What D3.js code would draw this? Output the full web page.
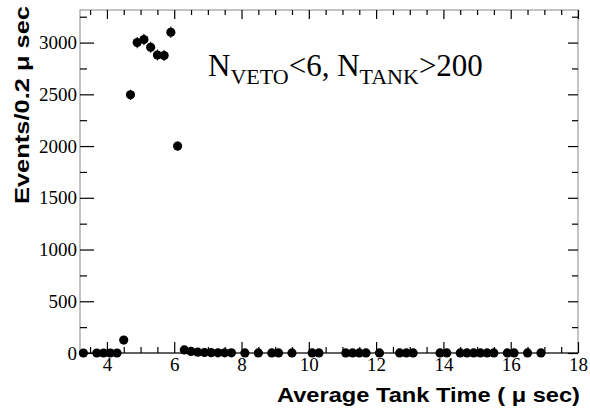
<!DOCTYPE html>
<html>
<head>
<meta charset="utf-8">
<script src="https://cdn.jsdelivr.net/npm/d3@7"></script>
<style>
  body { margin: 0; background: #fff; }
  .tick text { font-family: "Liberation Serif", "Times New Roman", serif; }
  .title { font-family: "Liberation Sans", Arial, sans-serif; font-weight: bold; }
</style>
</head>
<body>
<div id="chart"></div>
<script>
// bin centres (micro sec) and event counts per 0.2 micro sec
var timeBins = [3.3, 3.7, 3.9, 4.1, 4.3, 4.5, 4.7, 4.9, 5.1, 5.3, 5.5, 5.7, 5.9, 6.1,
  6.3, 6.5, 6.7, 6.9, 7.1, 7.3, 7.5, 7.7, 8.1, 8.5, 8.9, 9.1, 9.5, 10.1, 10.3,
  11.1, 11.3, 11.5, 11.7, 12.1, 12.7, 12.9, 13.1, 13.9, 14.1,
  14.5, 14.7, 14.9, 15.1, 15.3, 15.5, 15.9, 16.1, 16.5, 16.9]
var eventCounts = [0, 0, 0, 0, 0, 125, 2495, 3000, 3030, 2955, 2880, 2875, 3100, 2000,
  30, 15, 8, 5, 3, 2, 2, 2, 1, 1, 1, 1, 1, 1, 1,
  1, 1, 1, 1, 1, 1, 1, 1, 1, 1,
  1, 1, 1, 1, 1, 1, 1, 1, 1, 1]

var xMajor = [4, 6, 8, 10, 12, 14, 16, 18]
var yMajor = [0, 500, 1000, 1500, 2000, 2500, 3000]

var svgWidth = 590
var svgHeight = 411
var margin = { top: 10, right: 12, bottom: 58, left: 80 }
var width = svgWidth - margin.left - margin.right
var height = svgHeight - margin.top - margin.bottom

var svg = d3.select("#chart")
  .append("svg")
  .attr("width", svgWidth)
  .attr("height", svgHeight)

var chartGroup = svg.append("g")
  .attr("transform", `translate(${margin.left}, ${margin.top})`)

var x = d3.scaleLinear().domain([3.2, 18]).range([0, width])
var y = d3.scaleLinear().domain([0, 3315]).range([height, 0])

var xMinor = d3.range(3.5, 18.01, 0.5).filter(v => xMajor.indexOf(v) < 0)
var yMinor = d3.range(250, 3315, 500)

// frame
chartGroup.append("rect")
  .attr("width", width)
  .attr("height", height)
  .attr("fill", "none")
  .attr("stroke", "#888")
  .attr("stroke-width", 1)

function styleAxis(g) {
  g.select(".domain").remove()
  g.selectAll(".tick line").attr("stroke", "#000").attr("stroke-width", 1.2)
}

// bottom axis
chartGroup.append("g")
  .attr("transform", `translate(0, ${height})`)
  .call(d3.axisBottom(x).tickValues(xMinor).tickSize(-6).tickFormat(""))
  .call(styleAxis)
chartGroup.append("g")
  .attr("transform", `translate(0, ${height})`)
  .call(d3.axisBottom(x).tickValues(xMajor).tickSize(-11).tickPadding(5).tickFormat(d3.format("d")))
  .call(styleAxis)
  .call(g => g.selectAll(".tick text").attr("font-size", 19).attr("fill", "#000"))

// top axis
chartGroup.append("g")
  .call(d3.axisTop(x).tickValues(xMinor).tickSize(-5).tickFormat(""))
  .call(styleAxis)
chartGroup.append("g")
  .call(d3.axisTop(x).tickValues(xMajor).tickSize(-9).tickFormat(""))
  .call(styleAxis)

// left axis
chartGroup.append("g")
  .call(d3.axisLeft(y).tickValues(yMinor).tickSize(-7).tickFormat(""))
  .call(styleAxis)
chartGroup.append("g")
  .call(d3.axisLeft(y).tickValues(yMajor).tickSize(-14).tickPadding(3).tickFormat(d3.format("d")))
  .call(styleAxis)
  .call(g => g.selectAll(".tick text").attr("font-size", 19).attr("fill", "#000"))

// right axis
chartGroup.append("g")
  .attr("transform", `translate(${width}, 0)`)
  .call(d3.axisRight(y).tickValues(yMinor).tickSize(-6).tickFormat(""))
  .call(styleAxis)
chartGroup.append("g")
  .attr("transform", `translate(${width}, 0)`)
  .call(d3.axisRight(y).tickValues(yMajor).tickSize(-10).tickFormat(""))
  .call(styleAxis)

// bottom axis line
chartGroup.append("line")
  .attr("x1", 0).attr("x2", width)
  .attr("y1", height).attr("y2", height)
  .attr("stroke", "#000")
  .attr("stroke-width", 1.2)

var points = timeBins.map((t, i) => ({ t: t, n: eventCounts[i] }))

// error bars
chartGroup.selectAll(".err")
  .data(points)
  .enter()
  .append("line")
  .attr("class", "err")
  .attr("x1", d => x(d.t)).attr("x2", d => x(d.t))
  .attr("y1", d => y(d.n + Math.sqrt(d.n)))
  .attr("y2", d => y(Math.max(0, d.n - Math.sqrt(d.n))))
  .attr("stroke", "#000")
  .attr("stroke-width", 1)

chartGroup.selectAll("circle")
  .data(points)
  .enter()
  .append("circle")
  .attr("cx", d => x(d.t))
  .attr("cy", d => y(d.n))
  .attr("r", 4.6)
  .attr("fill", "#000")

// annotation
var note = svg.append("text")
  .attr("x", 208)
  .attr("y", 76)
  .attr("font-family", "Liberation Serif, Times New Roman, serif")
  .attr("font-size", 31)
  .attr("fill", "#000")
note.append("tspan").text("N")
note.append("tspan").attr("dy", 8).attr("font-size", 22).text("VETO")
note.append("tspan").attr("dy", -8).text("<6, N")
note.append("tspan").attr("dy", 8).attr("font-size", 22).text("TANK")
note.append("tspan").attr("dy", -8).text(">200")

// axis titles
svg.append("text")
  .attr("class", "title")
  .attr("x", 277)
  .attr("y", 402)
  .attr("font-size", 20)
  .attr("textLength", 303)
  .attr("lengthAdjust", "spacingAndGlyphs")
  .text("Average Tank Time ( \u03bc sec)")

svg.append("text")
  .attr("class", "title")
  .attr("transform", "translate(29, 105) rotate(-90)")
  .attr("text-anchor", "middle")
  .attr("font-size", 20)
  .attr("textLength", 198)
  .attr("lengthAdjust", "spacingAndGlyphs")
  .text("Events/0.2 \u03bc sec")
</script>
</body>
</html>
